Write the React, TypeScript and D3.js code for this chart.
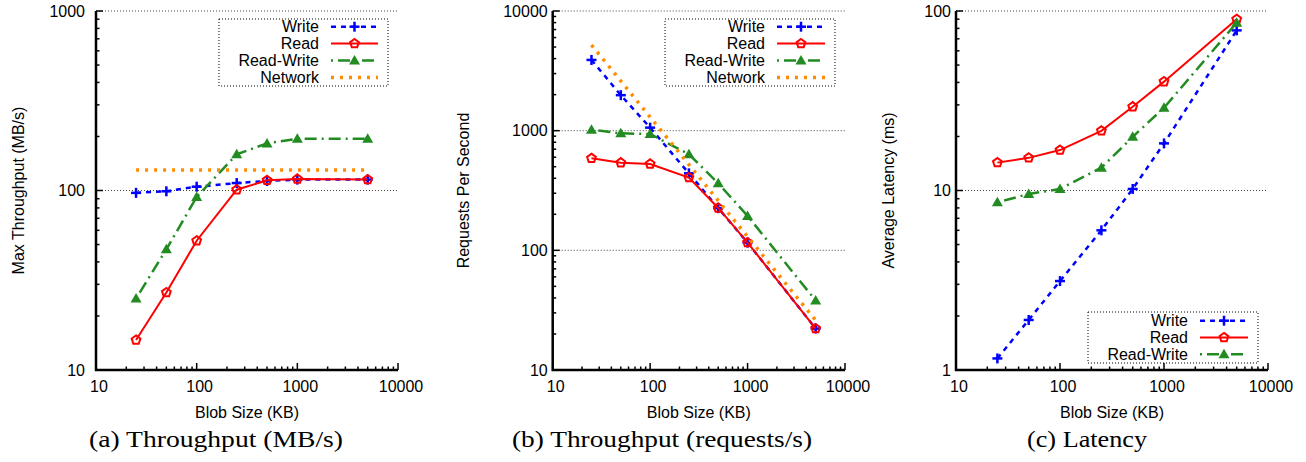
import React from "react";
import * as d3 from "d3";

// blob sizes (KB) on the x axis of all three panels
const blobSizes = [25, 50, 100, 250, 500, 1000, 5000];

// (a) max throughput, MB/s
const mbWrite = [97, 99, 105, 110, 113, 115, 115];
const mbRead = [14.7, 27, 52.5, 101, 114, 116, 115];
const mbReadWrite = [25, 47, 92, 159, 183, 194, 194];
const mbNetwork = [130, 130, 130, 130, 130, 130, 130];

// (b) requests per second
const rqWrite = [3900, 1980, 1060, 440, 225, 116, 22.2];
const rqRead = [588, 540, 527, 405, 226, 116, 22.2];
const rqReadWrite = [1020, 950, 938, 635, 363, 194, 38];
const rqNetwork = [5200, 2600, 1300, 520, 260, 130, 26];

// (c) average latency, ms
const latWrite = [1.16, 1.9, 3.13, 6.0, 10.2, 18.3, 78];
const latRead = [14.3, 15.2, 16.8, 21.5, 29.3, 40.4, 90];
const latReadWrite = [8.6, 9.56, 10.2, 13.4, 19.9, 28.9, 86];

const xTickValues = [10, 100, 1000, 10000];
const captions = ["(a) Throughput (MB/s)", "(b) Throughput (requests/s)", "(c) Latency"];
const yTitles = ["Max Throughput (MB/s)", "Requests Per Second", "Average Latency (ms)"];
const xTitle = "Blob Size (KB)";

const SANS = "'Liberation Sans', Arial, Helvetica, sans-serif";
const SERIF = "'Liberation Serif', 'Times New Roman', serif";

const seriesStyle = {
  "Write": { color: "#0000ff", dash: "5,5", width: 2.5, marker: "plus" },
  "Read": { color: "#ff0000", dash: null, width: 2, marker: "pentagon" },
  "Read-Write": { color: "#228b22", dash: "2,5,12,5", width: 2.5, marker: "triangle" },
  "Network": { color: "#ff8c00", dash: "3,6", width: 3.5, marker: null },
};

function Marker({ type, x, y, color }) {
  if (type === "plus") {
    return (
      <g stroke={color} strokeWidth={2.5}>
        <line x1={x - 5} x2={x + 5} y1={y} y2={y} />
        <line x1={x} x2={x} y1={y - 5} y2={y + 5} />
      </g>
    );
  }
  if (type === "pentagon") {
    const r = 4.6;
    const pts = d3.range(5).map(i => {
      const a = -Math.PI / 2 + (i * 2 * Math.PI) / 5;
      return [x + r * Math.cos(a), y + r * Math.sin(a)].join(",");
    });
    return <polygon points={pts.join(" ")} fill="none" stroke={color} strokeWidth={2} />;
  }
  if (type === "triangle") {
    return (
      <polygon
        points={`${x},${y - 5.5} ${x + 5.5},${y + 4} ${x - 5.5},${y + 4}`}
        fill={color}
      />
    );
  }
  return null;
}

function Panel({ cfg }) {
  const x = d3.scaleLog().domain([10, 10000]).range(cfg.xRange);
  const y = d3.scaleLog().domain(cfg.yDomain).range([370, 11]);
  const [x0, x1] = cfg.xRange;
  const y0 = 370;

  const isMajor = v => Math.abs(Math.log10(v) - Math.round(Math.log10(v))) < 1e-9;
  const xTicks = x.ticks();
  const yTicks = y.ticks();
  const yMajor = yTicks.filter(isMajor);

  const line = d3.line().x(d => x(d[0])).y(d => y(d[1]));

  const legendRows = cfg.series.map((s, i) => ({ ...s, ry: cfg.legend.row0 + i * cfg.legend.step }));

  return (
    <g>
      {/* grid */}
      {yMajor.filter(v => v !== cfg.yDomain[0]).map(v => (
        <line key={"g" + v} x1={x0} x2={x1} y1={y(v)} y2={y(v)}
          stroke="#444" strokeWidth={1} strokeDasharray="1,2" />
      ))}

      {/* x ticks */}
      {xTicks.map(v => (
        <line key={"xt" + v} x1={x(v)} x2={x(v)} y1={y0} y2={y0 - (isMajor(v) ? 7 : 3.5)}
          stroke="#000" strokeWidth={1.5} />
      ))}
      {xTickValues.map(v => (
        <text key={"xl" + v} x={x(v) + 3} y={392} textAnchor="middle" fontSize={16} fontFamily={SANS}>
          {v}
        </text>
      ))}

      {/* y ticks */}
      {yTicks.map(v => (
        <line key={"yt" + v} x1={x0} x2={x0 + (isMajor(v) ? 7 : 3.5)} y1={y(v)} y2={y(v)}
          stroke="#000" strokeWidth={1.5} />
      ))}
      {yMajor.map(v => (
        <text key={"yl" + v} x={x0 - cfg.labelGap} y={y(v)} textAnchor="end" dominantBaseline="central"
          fontSize={16} fontFamily={SANS}>
          {v}
        </text>
      ))}

      {/* axes (left + bottom) */}
      <path d={`M${x0},11V${y0}H${x1}`} fill="none" stroke="#000" strokeWidth={2.5} />

      {/* titles */}
      <text x={(x0 + x1) / 2} y={418} textAnchor="middle" fontSize={16} fontFamily={SANS}>{xTitle}</text>
      <text transform={`translate(${cfg.yTitleX},190.5) rotate(-90)`} textAnchor="middle"
        dominantBaseline="central" fontSize={16} fontFamily={SANS}>{cfg.yTitle}</text>
      <text x={cfg.captionX} y={447} textAnchor="middle" fontSize={24} fontFamily={SERIF}
        textLength={cfg.captionW} lengthAdjust="spacingAndGlyphs">{cfg.caption}</text>

      {/* series */}
      {cfg.series.map(s => {
        const st = seriesStyle[s.name];
        const pts = blobSizes.map((b, i) => [b, s.values[i]]);
        return (
          <g key={s.name}>
            <path d={line(pts)} fill="none" stroke={st.color} strokeWidth={st.width}
              strokeDasharray={st.dash || undefined} />
            {st.marker && pts.map((p, i) => (
              <Marker key={i} type={st.marker} x={x(p[0])} y={y(p[1])} color={st.color} />
            ))}
          </g>
        );
      })}

      {/* legend */}
      <rect x={cfg.legend.x} y={cfg.legend.y} width={cfg.legend.w} height={cfg.legend.h}
        fill="#fff" stroke="#000" strokeWidth={1} strokeDasharray="1,2" />
      {legendRows.map(s => {
        const st = seriesStyle[s.name];
        const [sx0, sx1] = cfg.legend.sample;
        return (
          <g key={"lg" + s.name}>
            <text x={cfg.legend.labelX} y={s.ry} textAnchor="end" dominantBaseline="central"
              fontSize={16} fontFamily={SANS}>{s.name}</text>
            <line x1={sx0} x2={sx1} y1={s.ry} y2={s.ry} stroke={st.color} strokeWidth={st.width}
              strokeDasharray={st.dash || undefined} />
            {st.marker && <Marker type={st.marker} x={(sx0 + sx1) / 2} y={s.ry} color={st.color} />}
          </g>
        );
      })}
    </g>
  );
}

export default function App() {
  const panels = [
    {
      xRange: [96, 398], yDomain: [10, 1000], labelGap: 11, yTitleX: 18, captionX: 216, captionW: 254,
      yTitle: yTitles[0], caption: captions[0],
      legend: { x: 219, y: 19, w: 169, h: 67, labelX: 319, sample: [331, 378], row0: 26.7, step: 16.9 },
      series: [
        { name: "Write", values: mbWrite },
        { name: "Read", values: mbRead },
        { name: "Read-Write", values: mbReadWrite },
        { name: "Network", values: mbNetwork },
      ],
    },
    {
      xRange: [552.7, 845], yDomain: [10, 10000], labelGap: 5, yTitleX: 463, captionX: 662, captionW: 300,
      yTitle: yTitles[1], caption: captions[1],
      legend: { x: 665, y: 19, w: 170, h: 67, labelX: 765, sample: [777, 825], row0: 26.7, step: 16.9 },
      series: [
        { name: "Write", values: rqWrite },
        { name: "Read", values: rqRead },
        { name: "Read-Write", values: rqReadWrite },
        { name: "Network", values: rqNetwork },
      ],
    },
    {
      xRange: [956, 1268], yDomain: [1, 100], labelGap: 5, yTitleX: 888, captionX: 1087, captionW: 120,
      yTitle: yTitles[2], caption: captions[2],
      legend: { x: 1088, y: 312, w: 170, h: 51, labelX: 1188, sample: [1200, 1248], row0: 320.7, step: 16.8 },
      series: [
        { name: "Write", values: latWrite },
        { name: "Read", values: latRead },
        { name: "Read-Write", values: latReadWrite },
      ],
    },
  ];

  return (
    <svg width={1306} height={462} style={{ position: "absolute", left: 0, top: 0, background: "#fff" }}>
      {panels.map((p, i) => <Panel key={i} cfg={p} />)}
    </svg>
  );
}
